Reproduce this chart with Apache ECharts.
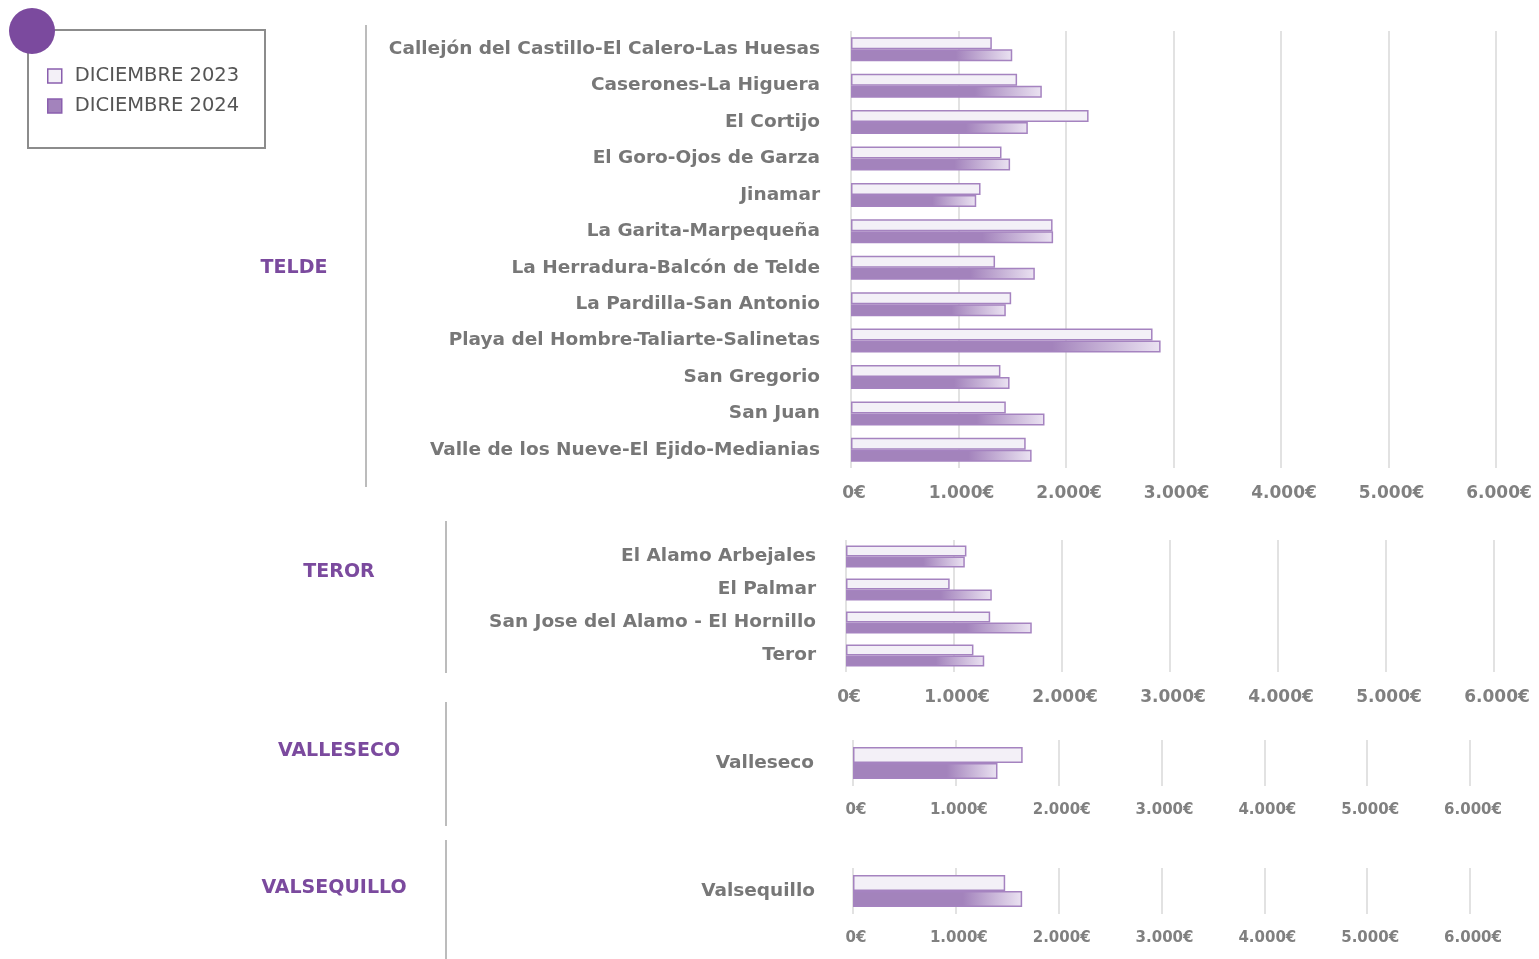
<!DOCTYPE html>
<html>
<head>
<meta charset="utf-8">
<script src="https://cdn.jsdelivr.net/npm/echarts@6/dist/echarts.min.js"></script>
<style>
  html, body { margin: 0; padding: 0; background: #fff; }
  #main { width: 1539px; height: 959px; }
</style>
</head>
<body>
<div id="main"></div>
<script>
// datos por municipio
var seriesNames = ['DICIEMBRE 2023', 'DICIEMBRE 2024'];
var xTicks = [0, 1000, 2000, 3000, 4000, 5000, 6000];

var teldeCats = ['Callejón del Castillo-El Calero-Las Huesas', 'Caserones-La Higuera', 'El Cortijo',
    'El Goro-Ojos de Garza', 'Jinamar', 'La Garita-Marpequeña', 'La Herradura-Balcón de Telde',
    'La Pardilla-San Antonio', 'Playa del Hombre-Taliarte-Salinetas', 'San Gregorio', 'San Juan',
    'Valle de los Nueve-El Ejido-Medianias'];
var telde2023 = [1310, 1545, 2210, 1400, 1205, 1875, 1340, 1490, 2805, 1390, 1440, 1625];
var telde2024 = [1500, 1775, 1645, 1480, 1165, 1880, 1710, 1440, 2880, 1475, 1800, 1680];

var terorCats = ['El Alamo Arbejales', 'El Palmar', 'San Jose del Alamo - El Hornillo', 'Teror'];
var teror2023 = [1115, 960, 1335, 1180];
var teror2024 = [1100, 1350, 1720, 1280];

var vallesecoCats = ['Valleseco'];
var valleseco2023 = [1650];
var valleseco2024 = [1405];

var valsequilloCats = ['Valsequillo'];
var valsequillo2023 = [1480];
var valsequillo2024 = [1645];

var FONT = '"DejaVu Sans", sans-serif';
var PURPLE = '#7b4a9e';

var myChart = echarts.init(document.getElementById('main'));

let euro = (v)=>{
    return String(v).replace(/\B(?=(\d{3})+(?!\d))/g, '.') + '€';
}

// grupos: posicion de cada grid
var groups = [
    { cats: teldeCats, d23: telde2023, d24: telde2024, left: 851, width: 645, top: 31, height: 437, bar: 12, tick: 17, margin: 31 },
    { cats: terorCats, d23: teror2023, d24: teror2024, left: 846, width: 648, top: 540, height: 132, bar: 11, tick: 17, margin: 30 },
    { cats: vallesecoCats, d23: valleseco2023, d24: valleseco2024, left: 853, width: 617, top: 740, height: 46, bar: 16, tick: 15, margin: 39 },
    { cats: valsequilloCats, d23: valsequillo2023, d24: valsequillo2024, left: 853, width: 617, top: 868, height: 46, bar: 16, tick: 15, margin: 38 }
];

var grid = [], xAxis = [], yAxis = [], series = [];

groups.map(function(g, i){
    grid.push({ left: g.left, width: g.width, top: g.top, height: g.height, containLabel: false });
    xAxis.push({
        gridIndex: i, type: 'value', min: 0, max: 6000, interval: 1000,
        axisLine: { show: false }, axisTick: { show: false },
        splitLine: { lineStyle: { color: '#d9d9d9', width: 1.5 } },
        axisLabel: { formatter: euro, color: '#808080', fontFamily: FONT, fontWeight: 'bold', fontSize: g.tick, margin: 17, padding: [0, 0, 0, 6] }
    });
    yAxis.push({
        gridIndex: i, type: 'category', data: g.cats, inverse: true,
        axisLine: { show: false }, axisTick: { show: false },
        axisLabel: { color: '#777', fontFamily: FONT, fontWeight: 'bold', fontSize: 18.5, margin: g.margin }
    });
    series.push({
        name: seriesNames[0], type: 'bar', xAxisIndex: i, yAxisIndex: i,
        data: g.d23, barWidth: g.bar, barGap: '0%',
        itemStyle: { color: '#f3f0f7', borderColor: '#a583c0', borderWidth: 1.5 }
    });
    series.push({
        name: seriesNames[1], type: 'bar', xAxisIndex: i, yAxisIndex: i,
        data: g.d24, barWidth: g.bar, barGap: '0%',
        itemStyle: {
            color: new echarts.graphic.LinearGradient(0, 0, 1, 0, [
                { offset: 0, color: '#a383bc' },
                { offset: 0.65, color: '#a383bc' },
                { offset: 1, color: '#ebe3f2' }
            ]),
            borderColor: '#a583c0', borderWidth: 1.5
        }
    });
});

// etiquetas de municipio y separadores
var groupLabels = [
    { text: 'TELDE', x: 294, y: 268, line: [366, 25, 487] },
    { text: 'TEROR', x: 339, y: 572, line: [446, 521, 673] },
    { text: 'VALLESECO', x: 339, y: 751, line: [446, 702, 826] },
    { text: 'VALSEQUILLO', x: 334, y: 888, line: [446, 840, 959] }
];
var graphic = [
    { type: 'rect', shape: { x: 28, y: 30, width: 237, height: 118 }, style: { fill: '#fff', stroke: '#8c8c8c', lineWidth: 2 }, z: 1 },
    { type: 'circle', shape: { cx: 32, cy: 31, r: 23 }, style: { fill: PURPLE }, z: 2 }
];
groupLabels.map(function(g){
    graphic.push({ type: 'text', x: g.x, y: g.y, style: { text: g.text, fill: PURPLE, font: 'bold 19px ' + FONT, align: 'center', verticalAlign: 'middle' } });
    graphic.push({ type: 'line', shape: { x1: g.line[0], y1: g.line[1], x2: g.line[0], y2: g.line[2] }, style: { stroke: '#a6a6a6', lineWidth: 1.5 } });
});

var option = {
    animation: false,
    backgroundColor: '#fff',
    legend: {
        data: [
            { name: seriesNames[0], icon: 'rect', itemStyle: { color: '#f3f0f7', borderColor: '#8a5fae', borderWidth: 1.5 } },
            { name: seriesNames[1], icon: 'rect', itemStyle: { color: '#a383bc', borderColor: '#8a5fae', borderWidth: 1.5 } }
        ],
        orient: 'vertical', left: 47, top: 66, padding: 0, itemWidth: 14, itemHeight: 14, itemGap: 10,
        textStyle: { color: '#555', fontFamily: FONT, fontSize: 19.5, padding: [0, 0, 0, 8] },
        z: 5
    },
    graphic: graphic,
    grid: grid,
    xAxis: xAxis,
    yAxis: yAxis,
    series: series
};
myChart.setOption(option);
</script>
</body>
</html>
